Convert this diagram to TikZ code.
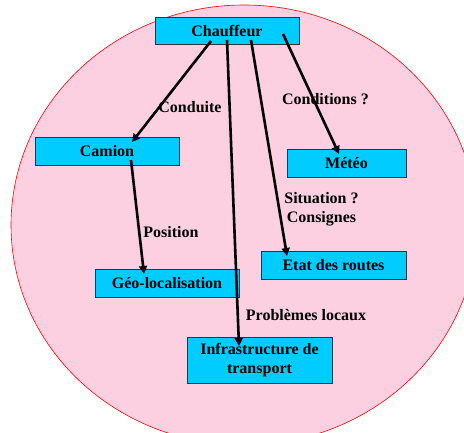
\documentclass[tikz,border=0pt]{standalone}
\usepackage{fontspec}
\setmainfont{Liberation Serif}
\usetikzlibrary{calc,arrows.meta}
\definecolor{pinkfill}{RGB}{252,208,224}
\definecolor{boxcyan}{RGB}{0,204,255}
\definecolor{boxedge}{RGB}{50,50,60}
\tikzset{
  box/.style={draw=boxedge, line width=1pt, fill=boxcyan, rectangle, inner sep=0pt,
    font=\fontsize{16}{19}\selectfont\bfseries, align=center},
  lbl/.style={font=\fontsize{16}{19}\selectfont\bfseries, align=center, inner sep=0pt},
  link/.style={line width=2.6pt, -{Triangle[length=8pt,width=8pt]}}
}
\begin{document}
\begin{tikzpicture}[x=1pt,y=-1pt]
\useasboundingbox (0,0) rectangle (464,432);
\begin{scope}
\clip (0,0) rectangle (464,432);
\fill[white] (0,0) rectangle (464,432);
\draw[red, line width=0.6pt, fill=pinkfill] (244,225) ellipse [x radius=233, y radius=220];
\end{scope}
\node[box, minimum width=144pt, minimum height=27pt] (ch) at (227,30.5) {Chauffeur};
\node[box, minimum width=144pt, minimum height=28pt] (cam) at (107,151) {Camion};
\node[box, minimum width=119pt, minimum height=28pt] (met) at (346.5,163) {Météo};
\node[box, minimum width=144pt, minimum height=28pt] (geo) at (167,283) {Géo-localisation};
\node[box, minimum width=145pt, minimum height=28pt] (etat) at (333.5,265) {Etat des routes};
\node[box, minimum width=145pt, minimum height=46pt] (inf) at (259.5,360) {Infrastructure de\\transport};
\coordinate (s1) at ($(ch.center)+(-16,10.5)$);
\coordinate (e1) at ($(cam.center)+(25,-9)$);
\coordinate (s2) at ($(cam.center)+(24,9)$);
\coordinate (e2) at ($(geo.center)+(-23,-9)$);
\coordinate (s3) at ($(ch.center)+(0,9.5)$);
\coordinate (e3) at ($(inf.center)+(-20.5,-14)$);
\coordinate (s4) at ($(ch.center)+(24,9.5)$);
\coordinate (e4) at ($(etat.center)+(-46.5,-9)$);
\coordinate (s5) at ($(ch.center)+(56,3.5)$);
\coordinate (e5) at ($(met.center)+(-7.5,-9)$);
\draw[link] (s1) -- (e1);
\draw[link] (s2) -- (e2);
\draw[link] (s3) -- (e3);
\draw[link] (s4) -- (e4);
\draw[link] (s5) -- (e5);
\node[lbl] (l1) at (190,107) {Conduite};
\node[lbl] (l2) at (171,232) {Position};
\node[lbl] (l3) at (306,315) {Problèmes locaux};
\node[lbl] (l4) at (321.5,209.5) {Situation ?\\Consignes};
\node[lbl] (l5) at (325.5,99) {Conditions ?};
\end{tikzpicture}
\end{document}
